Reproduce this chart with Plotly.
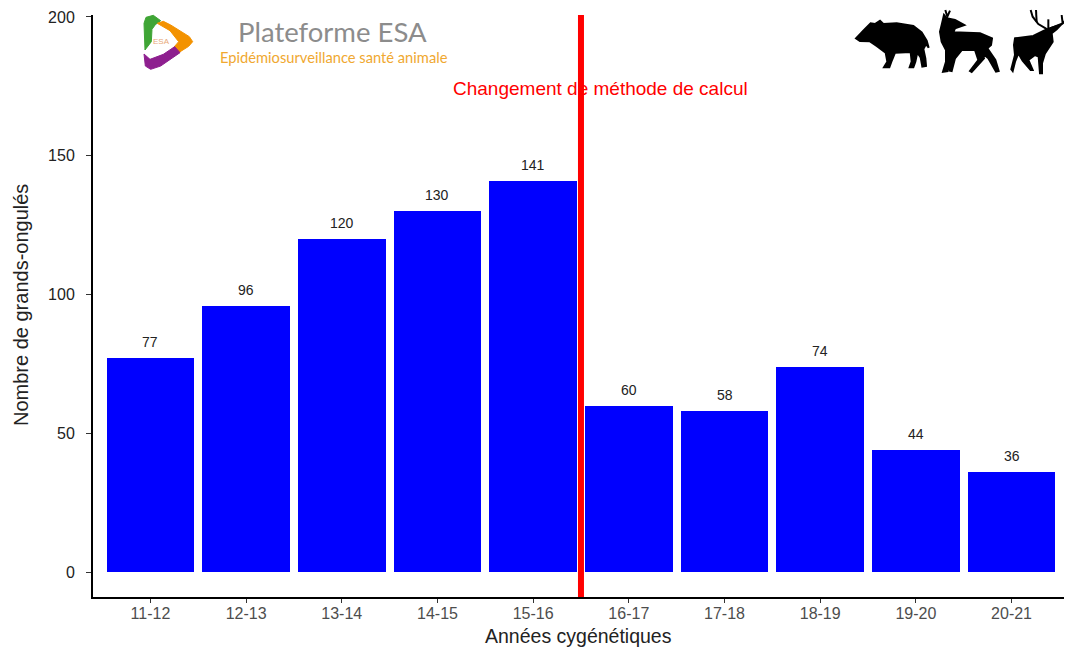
import plotly.graph_objects as go

categories = ["11-12","12-13","13-14","14-15","15-16","16-17","17-18","18-19","19-20","20-21"]
values = [77,96,120,130,141,60,58,74,44,36]
y_ticks = [0,50,100,150,200]
change_position = 4.5
change_label = "Changement de méthode de calcul"
x_title = "Années cygénétiques"
y_title = "Nombre de grands-ongulés"
logo_title = "Plateforme ESA"
logo_subtitle = "Epidémiosurveillance santé animale"

PAGE = 8
W, H = 1072 - PAGE, 648 - PAGE
L, R, T, B = 93, 1068, 15, 597

def pt(x, y):
    return f"{(x-L)/(R-L):.5f},{(B-y)/(B-T):.5f}"

def poly(pts, ox, oy, s, color, w=1):
    d = "M" + " L".join(pt(ox+p[0]*s, oy+p[1]*s) for p in pts) + " Z"
    return dict(type="path", xref="paper", yref="paper", path=d, fillcolor=color,
                line=dict(color=color, width=w), layer="above")

def stroke(pts, ox, oy, s, color, w):
    d = "M" + " L".join(pt(ox+p[0]*s, oy+p[1]*s) for p in pts)
    return dict(type="path", xref="paper", yref="paper", path=d,
                line=dict(color=color, width=w), layer="above")

boar = [(48,115),(70,92),(92,70),(105,72),(120,62),(130,72),(170,70),(220,78),(245,97),(260,122),(266,143),
        (258,132),(250,147),(256,175),(258,198),(247,200),(242,172),(232,157),(226,185),(220,202),(209,202),
        (215,185),(212,156),(165,158),(156,180),(148,202),(132,202),(142,185),(137,158),(110,138),(90,124),(60,123)]
doe = [(312,45),(320,55),(345,60),(373,75),(345,85),(340,97),(420,100),(456,115),(453,135),(442,145),(466,180),
       (476,213),(468,215),(445,175),(425,158),(432,175),(395,216),(390,213),(415,180),(405,150),(365,150),
       (345,175),(335,213),(330,212),(335,165),(323,213),(309,215),(318,185),(318,150),(305,125),(300,95),(305,75)]
stag = [(525,115),(580,108),(612,92),(628,85),(663,74),(650,88),(635,100),(638,125),(615,160),(606,190),(606,220),
        (600,220),(596,170),(585,165),(565,180),(578,210),(572,210),(548,182),(535,160),(525,185),(518,213),(514,208),
        (525,165),(522,135)]
antlers = [[(622,88),(595,72),(578,50),(572,30)],[(590,66),(588,30)],[(625,85),(625,58)],
           [(630,85),(668,70),(690,45),(695,30)],[(668,70),(665,45)]]

logo_green = [(45,150),(42,70),(48,52),(70,46),(92,62),(76,74),(66,88),(64,125)]
logo_orange = [(82,70),(100,64),(122,75),(178,110),(188,125),(176,139),(146,158),(128,146),(146,125),(120,92)]
logo_purple = [(42,162),(60,178),(100,163),(134,140),(150,158),(92,198),(62,208),(46,198)]

shapes = []
shapes += [poly(boar, 840, 0, 1/3, "black", 2), poly(doe, 840, 0, 1/3, "black", 2), poly(stag, 840, 0, 1/3, "black", 2)]
shapes += [stroke(a, 840, 0, 1/3, "black", 2) for a in antlers]
shapes += [stroke([(316,30),(322,50),(330,32)], 840, 0, 1/3, "black", 2)]
shapes += [poly(logo_green, 130, 0, 1/3, "#3fa535"), poly(logo_orange, 130, 0, 1/3, "#f39200"),
           poly(logo_purple, 130, 0, 1/3, "#8e1f8f")]
shapes.append(dict(type="line", xref="x", yref="paper", x0=change_position, x1=change_position, y0=0, y1=1,
                   line=dict(color="#ff0000", width=6), layer="above"))

fig = go.Figure(go.Bar(x=list(range(len(categories))), y=values, width=0.915,
                       marker=dict(color="#0000ff", line=dict(width=0)), hoverinfo="x+y"))

font = "Liberation Sans, Arial, sans-serif"
def page_text(x, y, text, size, color, family=font):
    return dict(x=(x-L)/(R-L), y=(B-y)/(B-T), xref="paper", yref="paper", text=text, showarrow=False,
                xanchor="center", yanchor="middle", font=dict(size=size, color=color, family=family))

ann = [dict(x=i, y=v, xref="x", yref="y", text=str(v), showarrow=False, yanchor="bottom", yshift=6,
            font=dict(size=14, color="#222222", family=font)) for i, v in enumerate(values)]
ann += [
    page_text(600, 88, change_label, 19, "#ff0000"),
    page_text(332, 31, logo_title, 27.5, "#8c8c8c", "Lato, sans-serif"),
    page_text(334, 57, logo_subtitle, 14.7, "#f0a830", "Lato, sans-serif"),
    page_text(161, 42, "ESA", 8, "#e8a878"),
    page_text(578, 636, x_title, 19.5, "#222222"),
]
ann.append(dict(x=(21-L)/(R-L), y=(B-305)/(B-T), xref="paper", yref="paper", text=y_title, showarrow=False,
                textangle=-90, xanchor="center", yanchor="middle", font=dict(size=20, color="#222222", family=font)))

fig.update_layout(
    width=W, height=H, autosize=False,
    margin=dict(l=L-PAGE, r=W-(R-PAGE), t=T-PAGE, b=H-(B-PAGE), pad=0, autoexpand=False),
    paper_bgcolor="white", plot_bgcolor="white", showlegend=False, bargap=0,
    shapes=shapes, annotations=ann,
    font=dict(family=font),
    xaxis=dict(range=[-0.6, 9.59], tickmode="array", tickvals=list(range(len(categories))), ticktext=categories,
               showgrid=False, zeroline=False, showline=True, linecolor="black", linewidth=2,
               ticks="outside", ticklen=4, tickcolor="#333333", ticklabelstandoff=-3,
               tickfont=dict(size=16, color="#4d4d4d", family=font)),
    yaxis=dict(range=[-9, 200.7], tickmode="array", tickvals=y_ticks,
               showgrid=False, zeroline=False, showline=True, linecolor="black", linewidth=2,
               ticks="outside", ticklen=5, tickcolor="#333333", ticklabelstandoff=8,
               tickfont=dict(size=16, color="#222222", family=font)),
)
fig.write_html("out.html")
